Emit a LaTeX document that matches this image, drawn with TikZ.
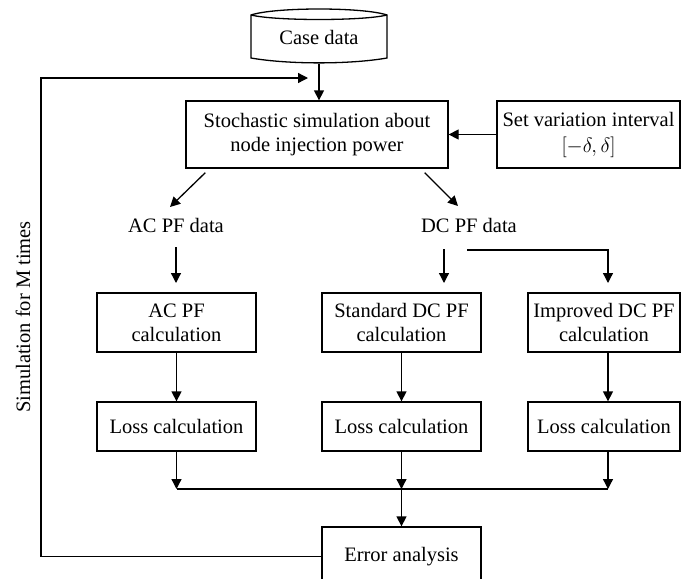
\documentclass[tikz,border=0pt]{standalone}
\usepackage{fontspec}
\setmainfont{Liberation Serif}
\usetikzlibrary{arrows.meta,calc}
\begin{document}
\begin{tikzpicture}[x=1pt,y=-1pt,
  line/.style={line width=1.3pt},
  arr/.style={line width=1.3pt,-{Triangle[length=10pt,width=10pt]}},
  txt/.style={font=\fontsize{20.5}{24}\selectfont},
  box/.style={draw,line width=1.3pt,align=center,inner sep=0pt,txt},
  lbl/.style={inner sep=0pt,align=center,txt}]
\useasboundingbox (0,0) rectangle (681,579);
\clip (0,0) rectangle (681,579);
% case data (stored-data cylinder)
\node[lbl,minimum width=136pt,minimum height=54pt] (case) at (319,37) {Case data};
\draw[line] (251,15) .. controls (275,7) and (363,7) .. (387,15) -- (387,58)
  .. controls (350,64.5) and (288,64.5) .. (251,58) -- cycle;
\draw[line] (251,15) .. controls (275,21) and (363,21) .. (387,15);
% boxes
\node[box,minimum width=262pt,minimum height=67pt] (stoch) at (317,134.5) {Stochastic simulation about\\node injection power};
\node[box,minimum width=183pt,minimum height=67pt] (setv) at (588.5,134.5) {Set variation interval\\[2pt]$[-\delta,\delta]$};
\node[lbl] (acdata) at (176,225) {AC PF data};
\node[lbl] (dcdata) at (469,225) {DC PF data};
\node[box,minimum width=159pt,minimum height=59pt] (accalc) at (176.5,322.5) {AC PF\\calculation};
\node[box,minimum width=159pt,minimum height=59pt] (stdcalc) at (401.5,322.5) {Standard DC PF\\calculation};
\node[box,minimum width=152pt,minimum height=59pt] (impcalc) at (604,322.5) {Improved DC PF\\calculation};
\node[box,minimum width=159pt,minimum height=49pt] (acloss) at (176.5,426.5) {Loss calculation};
\node[box,minimum width=159pt,minimum height=49pt] (stdloss) at (401.5,426.5) {Loss calculation};
\node[box,minimum width=152pt,minimum height=49pt] (imploss) at (604,426.5) {Loss calculation};
\node[box,minimum width=159pt,minimum height=59pt] (err) at (401.5,556.5) {Error analysis};
\node[lbl,rotate=90] (simtext) at (23,317) {Simulation for M times};
% helper coordinates
\coordinate (tipy) at (0,283);
\coordinate (bus) at (0,489);
\coordinate (loopCorner) at (41,78);
\coordinate (loopTip) at (308,78);
\coordinate (acA) at ([shift={(0,22)}]acdata.center);
\coordinate (dcA) at ([shift={(-25,24)}]dcdata.center);
\coordinate (dcB) at ([shift={(-2,25)}]dcdata.center);
\coordinate (impT) at ([xshift=4pt]impcalc.north);
\coordinate (impB) at ([xshift=4pt]impcalc.south);
\coordinate (impL) at ([xshift=4pt]imploss.north);
\coordinate (impLB) at ([xshift=4pt]imploss.south);
% connectors
\draw[arr] (case.south) -- (case.south |- stoch.north);
\draw[arr] (setv.west) -- (stoch.east);
\draw[arr] ([shift={(20,4)}]stoch.south west) -- ([shift={(-6,-18)}]acdata.center);
\draw[arr] ([shift={(-24,4)}]stoch.south east) -- ([shift={(-11,-19)}]dcdata.center);
\draw[arr] (acA) -- (acA |- tipy);
\draw[arr] (dcA) -- (dcA |- tipy);
\draw[arr] (dcB) -| (impT |- tipy);
\draw[arr] (accalc.south) -- (acloss.north);
\draw[arr] (stdcalc.south) -- (stdloss.north);
\draw[arr] (impB) -- (impL);
\draw[arr] (acloss.south) -- (acloss.south |- bus);
\draw[arr] (stdloss.south) -- (stdloss.south |- bus);
\draw[arr] (impLB) -- (impLB |- bus);
\draw[line] (acloss.south |- bus) -- (impLB |- bus);
\draw[arr] (stdloss.south |- bus) -- (err.north);
\draw[arr] (err.west) -| (loopCorner) -- (loopTip);
\end{tikzpicture}
\end{document}
